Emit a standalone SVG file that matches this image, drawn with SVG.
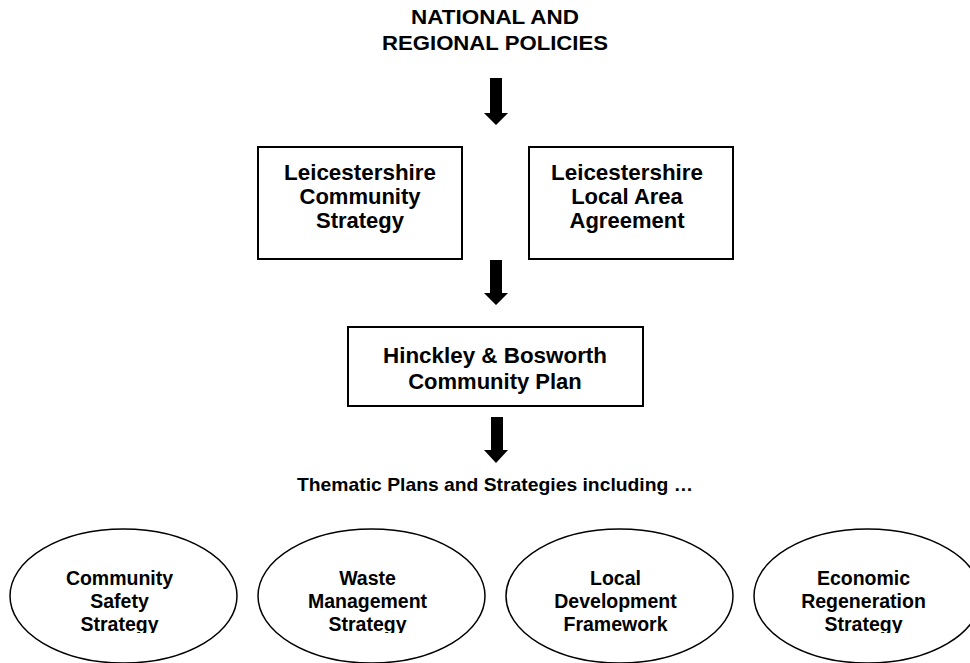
<svg xmlns="http://www.w3.org/2000/svg" width="970" height="663" viewBox="0 0 970 663">
<style>
text{font-family:"Liberation Sans",Arial,sans-serif;font-weight:bold;fill:#000;text-anchor:middle}
.t{font-size:21px}
.b{font-size:22px}
.th{font-size:18.5px}
.e{font-size:19.5px}
rect{fill:#fff;stroke:#000;stroke-width:2}
ellipse{fill:#fff;stroke:#000;stroke-width:1.5}
.arr{fill:#000}
</style>
<defs>
<clipPath id="ec"><rect x="0" y="0" width="970" height="633"/></clipPath>
</defs>
<g id="title">
<text class="t" x="495" y="24" textLength="168" lengthAdjust="spacingAndGlyphs">NATIONAL AND</text>
<text class="t" x="495" y="50" textLength="226" lengthAdjust="spacingAndGlyphs">REGIONAL POLICIES</text>
</g>
<g id="connectors">
<polygon class="arr" points="490,78 502,78 502,113 508,113 496,125 484,113 490,113"/>
<polygon class="arr" points="490,260 502,260 502,293 508,293 496,305 484,293 490,293"/>
<polygon class="arr" points="491,417 503,417 503,450 508,450 496,463 484,450 491,450"/>
</g>
<g id="lcs">
<rect x="258" y="147" width="204" height="112"/>
<text class="b" x="360" y="180" textLength="152" lengthAdjust="spacingAndGlyphs">Leicestershire</text>
<text class="b" x="360" y="204">Community</text>
<text class="b" x="360" y="228">Strategy</text>
</g>
<g id="llaa">
<rect x="529" y="147" width="204" height="112"/>
<text class="b" x="627" y="180" textLength="152" lengthAdjust="spacingAndGlyphs">Leicestershire</text>
<text class="b" x="627" y="204">Local Area</text>
<text class="b" x="627" y="228">Agreement</text>
</g>
<g id="hbcp">
<rect x="348" y="327" width="295" height="79"/>
<text class="b" x="495" y="363" textLength="224" lengthAdjust="spacingAndGlyphs">Hinckley &amp; Bosworth</text>
<text class="b" x="495" y="389">Community Plan</text>
</g>
<g id="thematic">
<text class="th" x="495" y="491" textLength="396" lengthAdjust="spacingAndGlyphs">Thematic Plans and Strategies including …</text>
</g>
<g id="css">
<ellipse cx="123.5" cy="596" rx="113.5" ry="67"/>
<g clip-path="url(#ec)">
<text class="e" x="119.5" y="585">Community</text>
<text class="e" x="119.5" y="608">Safety</text>
<text class="e" x="119.5" y="631">Strategy</text>
</g>
</g>
<g id="wms">
<ellipse cx="371.5" cy="596" rx="113.5" ry="67"/>
<g clip-path="url(#ec)">
<text class="e" x="367.5" y="585">Waste</text>
<text class="e" x="367.5" y="608">Management</text>
<text class="e" x="367.5" y="631">Strategy</text>
</g>
</g>
<g id="ldf">
<ellipse cx="619.5" cy="596" rx="113.5" ry="67"/>
<g clip-path="url(#ec)">
<text class="e" x="615.5" y="585">Local</text>
<text class="e" x="615.5" y="608">Development</text>
<text class="e" x="615.5" y="631">Framework</text>
</g>
</g>
<g id="ers">
<ellipse cx="867.5" cy="596" rx="113.5" ry="67"/>
<g clip-path="url(#ec)">
<text class="e" x="863.5" y="585">Economic</text>
<text class="e" x="863.5" y="608">Regeneration</text>
<text class="e" x="863.5" y="631">Strategy</text>
</g>
</g>
</svg>
